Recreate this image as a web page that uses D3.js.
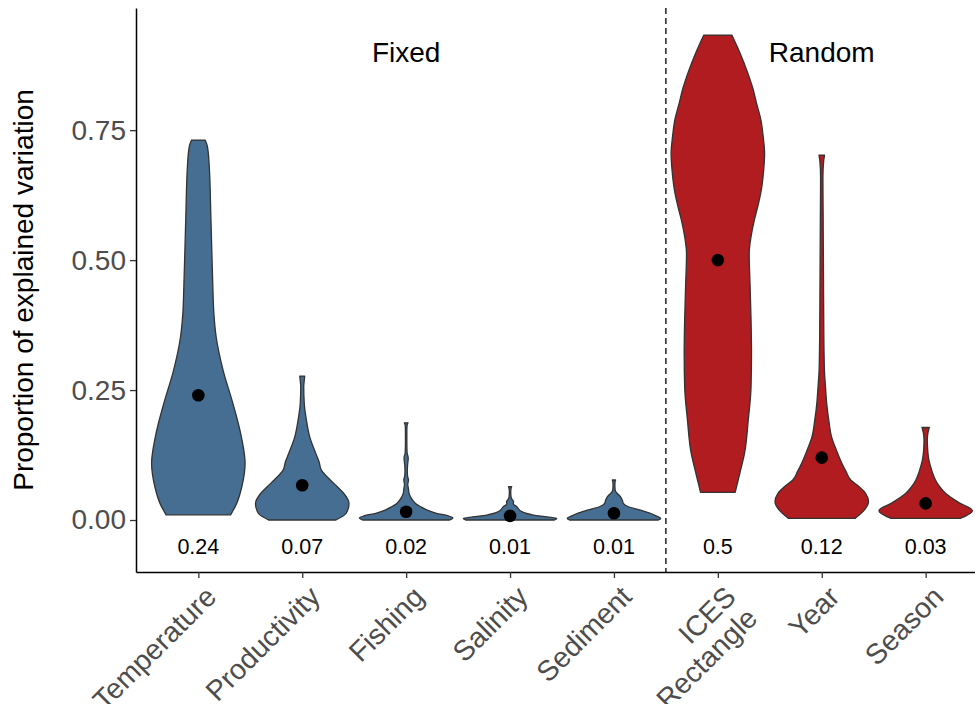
<!DOCTYPE html>
<html><head><meta charset="utf-8">
<script src="https://cdn.jsdelivr.net/npm/d3@7"></script>
<style>body{margin:0;background:#fff}svg{display:block;font-family:"Liberation Sans",Arial,sans-serif}</style>
</head><body><svg id="c" width="975" height="704"></svg>
<script>
const categories = ["Temperature","Productivity","Fishing","Salinity","Sediment","ICES\nRectangle","Year","Season"];
const groups = ["Fixed","Fixed","Fixed","Fixed","Fixed","Random","Random","Random"];
const means = [0.24,0.067,0.016,0.008,0.013,0.50,0.12,0.032];
const meanLabels = ["0.24","0.07","0.02","0.01","0.01","0.5","0.12","0.03"];
const yTicks = [0,0.25,0.5,0.75];
// violin profiles: [value, relative width]
const vTemperature = [[0.010,0.69],[0.032,0.82],[0.064,0.93],[0.109,1.0],[0.160,0.92],[0.224,0.74],[0.288,0.53],[0.353,0.38],[0.40,0.33],[0.449,0.31],[0.577,0.27],[0.686,0.23],[0.72,0.19],[0.731,0.145]];
const vProductivity = [[0.0,0.72],[0.013,0.94],[0.032,1.0],[0.051,0.89],[0.064,0.75],[0.077,0.6],[0.096,0.41],[0.112,0.36],[0.128,0.29],[0.160,0.16],[0.192,0.089],[0.224,0.043],[0.256,0.032],[0.270,0.045],[0.277,0.053]];
const vFishing = [[0,0.92],[0.004,1.0],[0.008,0.9],[0.013,0.65],[0.019,0.45],[0.026,0.3],[0.032,0.2],[0.038,0.14],[0.045,0.09],[0.052,0.06],[0.060,0.05],[0.068,0.035],[0.077,0.05],[0.085,0.03],[0.095,0.025],[0.105,0.03],[0.119,0.045],[0.13,0.02],[0.15,0.015],[0.17,0.015],[0.182,0.02],[0.187,0.04]];
const vSalinity = [[0,0.95],[0.003,1.0],[0.006,0.8],[0.0096,0.5],[0.016,0.25],[0.026,0.14],[0.031,0.07],[0.035,0.075],[0.040,0.04],[0.045,0.02],[0.055,0.015],[0.062,0.025],[0.064,0.035]];
const vSediment = [[0,0.95],[0.003,1.0],[0.008,0.9],[0.013,0.78],[0.019,0.57],[0.026,0.3],[0.032,0.2],[0.038,0.18],[0.048,0.11],[0.053,0.05],[0.058,0.025],[0.068,0.02],[0.074,0.025],[0.077,0.035]];
const vICES = [[0.053,0.37],[0.09,0.47],[0.128,0.57],[0.192,0.65],[0.256,0.71],[0.321,0.72],[0.385,0.71],[0.449,0.69],[0.513,0.67],[0.545,0.71],[0.577,0.78],[0.609,0.87],[0.641,0.94],[0.673,0.98],[0.705,1.0],[0.737,0.97],[0.77,0.92],[0.801,0.83],[0.833,0.74],[0.865,0.62],[0.897,0.48],[0.933,0.30]];
const vYear = [[0.003,0.71],[0.019,0.91],[0.035,1.0],[0.051,0.94],[0.064,0.80],[0.077,0.62],[0.093,0.52],[0.109,0.43],[0.135,0.31],[0.160,0.21],[0.192,0.15],[0.224,0.106],[0.256,0.08],[0.288,0.057],[0.35,0.045],[0.42,0.04],[0.50,0.035],[0.58,0.03],[0.66,0.025],[0.69,0.04],[0.702,0.06]];
const vSeason = [[0.003,0.74],[0.018,1.0],[0.032,0.74],[0.051,0.43],[0.064,0.3],[0.077,0.21],[0.09,0.15],[0.103,0.106],[0.115,0.07],[0.128,0.05],[0.14,0.04],[0.154,0.035],[0.168,0.05],[0.178,0.078]];
const profiles = [vTemperature,vProductivity,vFishing,vSalinity,vSediment,vICES,vYear,vSeason];
const groupColors = {Fixed:"#466e92", Random:"#b01c1f"};

const svg = d3.select("#c");
const M = {left:136, right:988, top:8, bottom:572};
const x = d3.scalePoint().domain(categories).range([M.left,M.right]).padding(0.6);
const y = d3.scaleLinear().domain([-0.1,0.985]).range([M.bottom,M.top]);
const half = x.step()*0.45;

// dashed separator
const sepX = (x(categories[4])+x(categories[5]))/2;
svg.append("line").attr("x1",sepX).attr("x2",sepX).attr("y1",M.top).attr("y2",M.bottom)
  .attr("stroke","#000").attr("stroke-width",1.3).attr("stroke-dasharray","6,4");

// violins
categories.forEach((c,i)=>{
  const cx = x(c);
  const area = d3.area().curve(d3.curveMonotoneY)
    .y(d=>y(d[0])).x0(d=>cx-d[1]*half).x1(d=>cx+d[1]*half);
  svg.append("path").attr("d",area(profiles[i]))
    .attr("fill",groupColors[groups[i]]).attr("stroke","#333").attr("stroke-width",1.3)
    .attr("stroke-linejoin","round");
});
// means
svg.selectAll("circle.m").data(categories).join("circle").attr("class","m")
  .attr("cx",d=>x(d)).attr("cy",(d,i)=>y(means[i])).attr("r",6.3).attr("fill","#000");
// mean labels
svg.selectAll("text.ml").data(categories).join("text").attr("class","ml")
  .attr("x",d=>x(d)).attr("y",y(-0.05)).attr("dy","0.36em").attr("text-anchor","middle")
  .attr("font-size",21.5).attr("fill","#000").text((d,i)=>meanLabels[i]);
// group labels
const groupLabelPos = [["Fixed",categories[2]],["Random",categories[6]]];
svg.selectAll("text.g").data(groupLabelPos).join("text").attr("class","g")
  .attr("x",d=>x(d[1])).attr("y",y(0.9)).attr("dy","0.35em").attr("text-anchor","middle")
  .attr("font-size",28).attr("fill","#000").text(d=>d[0]);

// y axis
const yAxis = svg.append("g").attr("transform",`translate(${M.left},0)`)
  .call(d3.axisLeft(y).tickValues(yTicks).tickFormat(d3.format(".2f")).tickSize(6).tickSizeOuter(0).tickPadding(4));
yAxis.select(".domain").attr("stroke","#000").attr("stroke-width",1.5);
yAxis.selectAll(".tick line").attr("stroke","#333").attr("stroke-width",1.3);
yAxis.selectAll(".tick text").attr("font-size",28).attr("fill","#4d4d4d").attr("font-family","Liberation Sans, Arial, sans-serif");

// x axis
const xAxis = svg.append("g").attr("transform",`translate(0,${M.bottom})`)
  .call(d3.axisBottom(x).tickSize(6).tickSizeOuter(0).tickFormat(""));
xAxis.select(".domain").attr("stroke","#000").attr("stroke-width",1.5);
xAxis.selectAll(".tick line").attr("stroke","#333").attr("stroke-width",1.3);
categories.forEach(c=>{
  const lines = c.split("\n");
  const t = svg.append("text").attr("transform",`translate(${x(c)+5},${M.bottom+12}) rotate(-45)`)
    .attr("text-anchor","end").attr("font-size",28.5).attr("fill","#4d4d4d");
  lines.forEach((l,k)=>t.append("tspan").attr("x",0).attr("y",0).attr("dy",(0.72+k*1.07)+"em").text(l));
});

// y title
svg.append("text").attr("transform",`translate(33,${(M.top+M.bottom)/2}) rotate(-90)`)
  .attr("text-anchor","middle").attr("font-size",28).attr("fill","#000").text("Proportion of explained variation");
</script></body></html>
